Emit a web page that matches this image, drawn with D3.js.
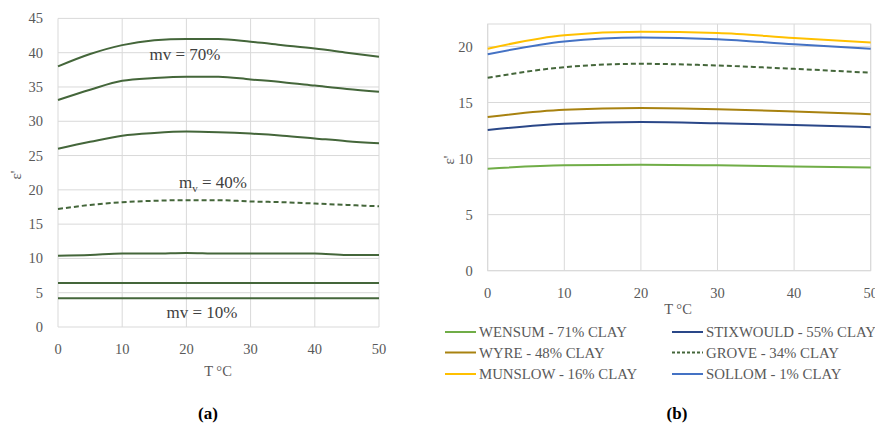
<!DOCTYPE html>
<html>
<head>
<meta charset="utf-8">
<script src="https://cdn.jsdelivr.net/npm/d3@7"></script>
<style>
  body { margin: 0; background: #fff; }
  text { font-family: "Liberation Serif", serif; }
</style>
</head>
<body>
<div id="chart"></div>
<script>
// ---- data, panel (a) ----
var tempA = [0, 5, 10, 15, 20, 25, 30, 35, 40, 45, 50];
var mv70 = [38.0, 39.8, 41.1, 41.8, 42.0, 42.0, 41.6, 41.1, 40.6, 40.0, 39.4];
var mv60 = [33.1, 34.6, 35.9, 36.3, 36.5, 36.5, 36.1, 35.7, 35.2, 34.7, 34.3];
var mv50 = [26.0, 27.0, 27.9, 28.3, 28.5, 28.4, 28.2, 27.9, 27.5, 27.1, 26.8];
var mv40 = [17.2, 17.8, 18.2, 18.4, 18.5, 18.5, 18.3, 18.2, 18.0, 17.8, 17.6];
var mv30 = [10.4, 10.5, 10.7, 10.7, 10.8, 10.7, 10.7, 10.7, 10.7, 10.5, 10.5];
var mv20 = [6.4, 6.4, 6.4, 6.4, 6.4, 6.4, 6.4, 6.4, 6.4, 6.4, 6.4];
var mv10 = [4.2, 4.2, 4.2, 4.2, 4.2, 4.2, 4.2, 4.2, 4.2, 4.2, 4.2];
var xTicksA = [0, 10, 20, 30, 40, 50];
var yTicksA = [0, 5, 10, 15, 20, 25, 30, 35, 40, 45];

// ---- data, panel (b) ----
var tempB = [0, 10, 20, 30, 40, 50];
var soilNames = ["WENSUM - 71% CLAY", "STIXWOULD - 55% CLAY", "WYRE - 48% CLAY",
                 "GROVE - 34% CLAY", "MUNSLOW - 16% CLAY", "SOLLOM - 1% CLAY"];
var wensum = [9.1, 9.4, 9.45, 9.4, 9.3, 9.2];
var stixwould = [12.55, 13.1, 13.25, 13.15, 13.0, 12.8];
var wyre = [13.7, 14.35, 14.5, 14.4, 14.2, 13.95];
var grove = [17.2, 18.15, 18.45, 18.3, 18.0, 17.65];
var munslow = [19.8, 21.0, 21.3, 21.2, 20.75, 20.35];
var sollom = [19.3, 20.45, 20.8, 20.65, 20.2, 19.8];
var xTicksB = [0, 10, 20, 30, 40, 50];
var yTicksB = [0, 5, 10, 15, 20];

var W = 875, H = 423;
var svg = d3.select("#chart").append("svg")
    .attr("width", W).attr("height", H);

var gridColor = "#d9d9d9", tickColor = "#595959";

function drawFrame(x, y, xt, yt, box) {
    var g = svg.append("g");
    var x0 = x.range()[0], x1 = x.range()[1];
    var y0 = y.range()[0], y1 = y.range()[1];
    g.selectAll(".hg").data(yt).enter().append("line")
        .attr("x1", x0).attr("x2", x1)
        .attr("y1", d => y(d)).attr("y2", d => y(d))
        .attr("stroke", gridColor).attr("stroke-width", 1);
    g.selectAll(".vg").data(xt).enter().append("line")
        .attr("x1", d => x(d)).attr("x2", d => x(d))
        .attr("y1", y0).attr("y2", y1)
        .attr("stroke", gridColor).attr("stroke-width", 1);
    if (box) {
        g.append("rect").attr("x", x0).attr("y", y1)
            .attr("width", x1 - x0).attr("height", y0 - y1)
            .attr("fill", "none").attr("stroke", gridColor);
    }
    // y tick labels
    g.selectAll(".yl").data(yt).enter().append("text")
        .attr("x", x0 - 15).attr("y", d => y(d)).attr("dy", "0.35em")
        .attr("text-anchor", "end").attr("fill", tickColor)
        .style("font-size", "14.5px").text(d => d);
    // x tick labels
    g.selectAll(".xl").data(xt).enter().append("text")
        .attr("x", d => x(d)).attr("y", y0 + 22).attr("dy", "0.35em")
        .attr("text-anchor", "middle").attr("fill", tickColor)
        .style("font-size", "14.5px").text(d => d);
    return g;
}

// ---------- panel (a) ----------
var xA = d3.scaleLinear().domain([0, 50]).range([58, 379]);
var yA = d3.scaleLinear().domain([0, 45]).range([327, 18.4]);
drawFrame(xA, yA, xTicksA, yTicksA, false);

var lineA = d3.line()
    .x((d, i) => xA(tempA[i]))
    .y(d => yA(d))
    .curve(d3.curveMonotoneX);

var greenA = "#44663a";
var seriesA = [mv70, mv60, mv50, mv40, mv30, mv20, mv10];
svg.append("g").selectAll("path").data(seriesA).enter().append("path")
    .attr("d", d => lineA(d))
    .attr("fill", "none")
    .attr("stroke", greenA)
    .attr("stroke-width", 2)
    .attr("stroke-dasharray", d => d === mv40 ? "5,3" : null);

svg.append("text").attr("x", 185).attr("y", 54).attr("dy", "0.35em")
    .attr("text-anchor", "middle").attr("fill", "#404040")
    .style("font-size", "17px").text("mv = 70%");
var t40 = svg.append("text").attr("x", 213).attr("y", 182).attr("dy", "0.35em")
    .attr("text-anchor", "middle").attr("fill", "#404040")
    .style("font-size", "17px");
t40.append("tspan").text("m");
t40.append("tspan").attr("dy", "4").style("font-size", "11px").text("v");
t40.append("tspan").attr("dy", "-4").text(" = 40%");
svg.append("text").attr("x", 202).attr("y", 312).attr("dy", "0.35em")
    .attr("text-anchor", "middle").attr("fill", "#404040")
    .style("font-size", "17px").text("mv = 10%");

svg.append("text").attr("x", 218).attr("y", 371).attr("dy", "0.35em")
    .attr("text-anchor", "middle").attr("fill", tickColor)
    .style("font-size", "14.5px").text("T °C");
svg.append("text").attr("transform", "translate(16,175) rotate(-90)")
    .attr("dy", "0.35em").attr("text-anchor", "middle").attr("fill", tickColor)
    .style("font-size", "15px").text("ε'");

// ---------- panel (b) ----------
var xB = d3.scaleLinear().domain([0, 50]).range([487.7, 870.7]);
var yB = d3.scaleLinear().domain([0, 22]).range([270.7, 24]);
drawFrame(xB, yB, xTicksB, yTicksB, true);

var lineB = d3.line()
    .x((d, i) => xB(tempB[i]))
    .y(d => yB(d))
    .curve(d3.curveMonotoneX);

var seriesB = [
    { name: soilNames[0], values: wensum, color: "#70ad47", dash: null },
    { name: soilNames[1], values: stixwould, color: "#2a4788", dash: null },
    { name: soilNames[2], values: wyre, color: "#a88210", dash: null },
    { name: soilNames[3], values: grove, color: greenA, dash: "5,3" },
    { name: soilNames[4], values: munslow, color: "#ffc000", dash: null },
    { name: soilNames[5], values: sollom, color: "#4472c4", dash: null }
];
svg.append("g").selectAll("path").data(seriesB).enter().append("path")
    .attr("d", d => lineB(d.values))
    .attr("fill", "none")
    .attr("stroke", d => d.color)
    .attr("stroke-width", 2)
    .attr("stroke-dasharray", d => d.dash);

svg.append("text").attr("x", 678).attr("y", 309).attr("dy", "0.35em")
    .attr("text-anchor", "middle").attr("fill", tickColor)
    .style("font-size", "14.5px").text("T °C");
svg.append("text").attr("transform", "translate(449,160) rotate(-90)")
    .attr("dy", "0.35em").attr("text-anchor", "middle").attr("fill", tickColor)
    .style("font-size", "15px").text("ε'");

// legend
var legend = svg.append("g").selectAll("g").data(seriesB).enter().append("g")
    .attr("transform", (d, i) => "translate(" + (i % 2 === 0 ? 445 : 672) + "," +
        [332, 352.5, 374][Math.floor(i / 2)] + ")");
legend.append("line").attr("x1", 0).attr("x2", 31)
    .attr("stroke", d => d.color).attr("stroke-width", 2)
    .attr("stroke-dasharray", d => d.dash ? "3,2" : null);
legend.append("text").attr("x", 34).attr("dy", "0.35em")
    .attr("fill", tickColor).style("font-size", "14.8px").text(d => d.name);

// captions
svg.append("text").attr("x", 208).attr("y", 413).attr("dy", "0.35em")
    .attr("text-anchor", "middle").attr("fill", "#000").attr("font-weight", "bold")
    .style("font-size", "17px").text("(a)");
svg.append("text").attr("x", 677).attr("y", 413).attr("dy", "0.35em")
    .attr("text-anchor", "middle").attr("fill", "#000").attr("font-weight", "bold")
    .style("font-size", "17px").text("(b)");
</script>
</body>
</html>
